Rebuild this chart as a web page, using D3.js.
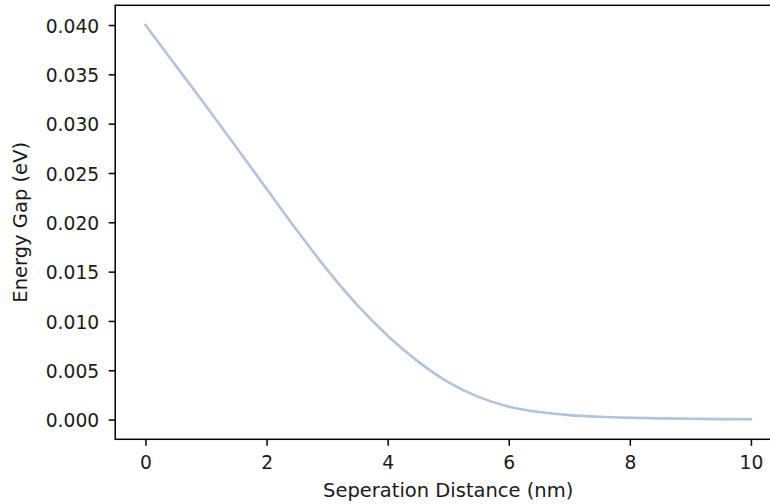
<!DOCTYPE html>
<html>
<head>
<meta charset="utf-8">
<script src="https://cdn.jsdelivr.net/npm/d3@7"></script>
<style>
  html, body { margin: 0; padding: 0; background: #fff; overflow: hidden; }
  svg { display: block; }
  text { font-family: "DejaVu Sans", sans-serif; fill: #1a1a1a; }
</style>
</head>
<body>
<svg id="chart" width="770" height="504"></svg>
<script>
// Data
const distance = [0, 0.5, 1, 1.5, 2, 2.5, 3, 3.5, 4, 4.5, 5, 5.5, 6, 6.5, 7, 7.5, 8, 8.5, 9, 9.5, 10];
const energyGap = [0.0400, 0.0359, 0.0318, 0.0276, 0.0234, 0.0192, 0.0152, 0.0116, 0.0085, 0.0059,
                   0.0038, 0.0023, 0.0013, 0.00076, 0.00045, 0.00028, 0.00018, 0.00012, 0.00008, 0.00005, 0.00003];
const xTicks = [0, 2, 4, 6, 8, 10];
const yTicks = [0.000, 0.005, 0.010, 0.015, 0.020, 0.025, 0.030, 0.035, 0.040];
const xLabel = "Seperation Distance (nm)";
const yLabel = "Energy Gap (eV)";

const svg = d3.select("#chart");
const L = 115.2, R = 781.2, T = 5.3, B = 439.3;
const x = d3.scaleLinear().domain([-0.5, 10.5]).range([L, R]);
const y = d3.scaleLinear().domain([-0.002, 0.042]).range([B, T]);
const fs = 18.7;

// Line
const data = distance.map((d, i) => [d, energyGap[i]]);
svg.append("path")
  .datum(data)
  .attr("fill", "none")
  .attr("stroke", "#b0c4de")
  .attr("stroke-width", 2.6)
  .attr("stroke-linejoin", "round")
  .attr("stroke-linecap", "square")
  .attr("d", d3.line().x(d => x(d[0])).y(d => y(d[1])).curve(d3.curveMonotoneX));

// Axes
const xAxis = d3.axisBottom(x).tickValues(xTicks).tickSize(6.5).tickPadding(10).tickFormat(d3.format("d"));
const gx = svg.append("g").attr("transform", `translate(0,${B})`).call(xAxis);
const yAxis = d3.axisLeft(y).tickValues(yTicks).tickSize(6.5).tickPadding(9.5).tickFormat(d3.format(".3f"));
const gy = svg.append("g").attr("transform", `translate(${L},0)`).call(yAxis);

[gx, gy].forEach(g => {
  g.select(".domain").remove();
  g.selectAll(".tick line").attr("stroke", "#000").attr("stroke-width", 1.5);
  g.selectAll(".tick text").attr("font-size", fs).attr("font-family", "DejaVu Sans").attr("fill", "#1a1a1a");
});
gx.selectAll(".tick text").attr("dy", "0.71em");
gy.selectAll(".tick text").attr("dy", "0.38em");

// Spines
svg.append("rect")
  .attr("x", L).attr("y", T).attr("width", R - L).attr("height", B - T)
  .attr("fill", "none").attr("stroke", "#000").attr("stroke-width", 1.5);

// Axis labels
svg.append("text")
  .attr("x", (L + R) / 2).attr("y", 497)
  .attr("text-anchor", "middle").attr("font-size", 19.5)
  .text(xLabel);
svg.append("text")
  .attr("transform", `translate(27,${(T + B) / 2}) rotate(-90)`)
  .attr("text-anchor", "middle").attr("font-size", 19.5)
  .text(yLabel);
</script>
</body>
</html>
